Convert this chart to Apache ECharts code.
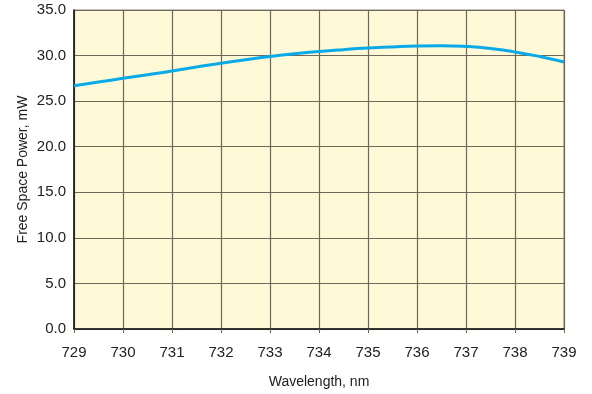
<!DOCTYPE html>
<html>
<head>
<meta charset="utf-8">
<script src="https://cdn.jsdelivr.net/npm/echarts@6/dist/echarts.min.js"></script>
<style>
  html, body { margin: 0; padding: 0; background: #fff; }
  #chart { width: 592px; height: 394px; }
</style>
</head>
<body>
<div id="chart"></div>
<script>
// wavelength (nm) and free space power (mW)
const wavelengths = [729, 729.5, 730, 730.5, 731, 731.5, 732, 732.5, 733, 733.5, 734,
  734.5, 735, 735.5, 736, 736.5, 737, 737.5, 738, 738.5, 739]
const powers = [26.7, 27.1, 27.5, 27.9, 28.3, 28.75, 29.15, 29.55, 29.9, 30.2, 30.45,
  30.65, 30.82, 30.95, 31.05, 31.08, 31.0, 30.78, 30.4, 29.9, 29.3]

const font = '"Liberation Sans Narrow", "Arial Narrow", "Liberation Sans", sans-serif'
const gridColor = '#6e6858'

const chart = echarts.init(document.getElementById('chart'))
chart.setOption({
  animation: false,
  grid: {
    left: 74, right: 28, top: 10, bottom: 64,
    show: true,
    backgroundColor: '#fff9d7',
    borderColor: '#8a8578',
    borderWidth: 1
  },
  xAxis: {
    type: 'value',
    min: 729,
    max: 739,
    interval: 1,
    name: 'Wavelength, nm',
    nameLocation: 'middle',
    nameGap: 46,
    nameMoveOverlap: false,
    nameTextStyle: { fontFamily: font, fontSize: 14, color: '#222' },
    axisLine: { lineStyle: { color: '#111', width: 1.5 } },
    axisTick: { show: true, length: 4, lineStyle: { color: '#6e6858' } },
    axisLabel: { fontFamily: font, fontSize: 15, color: '#222', margin: 16 },
    splitLine: { lineStyle: { color: gridColor, width: 1.2 } }
  },
  yAxis: {
    type: 'value',
    min: 0,
    max: 35,
    interval: 5,
    name: 'Free Space Power, mW',
    nameLocation: 'middle',
    nameGap: 44,
    nameMoveOverlap: false,
    nameTextStyle: { fontFamily: font, fontSize: 14, color: '#222' },
    axisLine: { show: true, lineStyle: { color: '#111', width: 1.5 } },
    axisTick: { show: false },
    axisLabel: {
      fontFamily: font, fontSize: 15, color: '#222', margin: 8,
      formatter: v => v.toFixed(1)
    },
    splitLine: { lineStyle: { color: gridColor, width: 1.2 } }
  },
  series: [
    {
      type: 'line',
      data: wavelengths.map((w, i) => [w, powers[i]]),
      smooth: true,
      showSymbol: false,
      lineStyle: { color: '#0aaae8', width: 3 }
    }
  ]
})
</script>
</body>
</html>
